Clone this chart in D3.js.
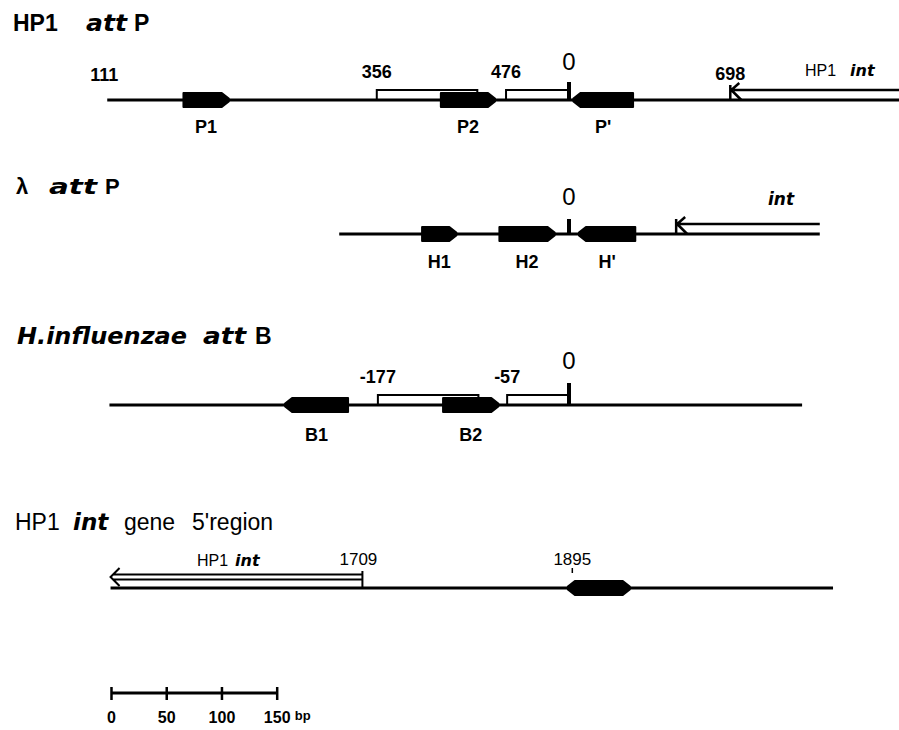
<!DOCTYPE html>
<html>
<head>
<meta charset="utf-8">
<script src="https://cdn.jsdelivr.net/npm/d3@7"></script>
<style>
    html, body { margin: 0; padding: 0; background: #ffffff; }
    svg text { font-family: 'Liberation Sans', Arial, sans-serif; fill: #000000; }
    .ital { font-family: 'DejaVu Sans', sans-serif; font-weight: bold; font-style: oblique; }
</style>
</head>
<body>
<div id="chart"></div>
<script>
// All positions are in bp, measured from the core "0" of each site

// HP1 attP
const hp1Span = [-418, 300];
const hp1Sites = [
    { name: 'P1', start: -349, end: -308, taper: 'right' },
    { name: 'P2', start: -116, end: -67, taper: 'right' },
    { name: "P'", start: 4, end: 58, taper: 'left' },
];
const hp1Brackets = [
    { label: '356', start: -174, end: -83 },
    { label: '476', start: -57, end: 0 },
];
const hp1Start = '111';
const hp1Int = { label: '698', start: 146, end: 300 };

// lambda attP
const lambdaSpan = [-208, 227];
const lambdaSites = [
    { name: 'H1', start: -133, end: -102, taper: 'right' },
    { name: 'H2', start: -63, end: -13, taper: 'right' },
    { name: "H'", start: 9, end: 60, taper: 'left' },
];
const lambdaInt = { start: 97, end: 227 };

// H. influenzae attB
const hinfSpan = [-416, 211];
const hinfSites = [
    { name: 'B1', start: -257, end: -200, taper: 'left' },
    { name: 'B2', start: -114, end: -64, taper: 'right' },
];
const hinfBrackets = [
    { label: '-177', start: -173, end: -82 },
    { label: '-57', start: -56, end: 0 },
];

// HP1 int gene 5' region
const intRegionSpan = [-415, 239];
const intRegionArrow = { label: '1709', start: -415, end: -187 };
const intRegionSite = { name: '', start: -1, end: 55, taper: 'both' };
const intRegionMark = { label: '1895', pos: 3 };

// Scale bar
const scaleTicks = [0, 50, 100, 150];
const scaleUnit = 'bp';

// Size of the picture
const totalWidth = 899;
const totalHeight = 730;

// Baseline of every row
const rowY = { hp1: 100, lambda: 234, hinf: 405, intRegion: 588, scale: 693 };

const svg = d3
    .select('#chart')
    .append('svg')
    .attr('width', totalWidth)
    .attr('height', totalHeight);

// bp to pixel, core sits at x = 569
const pxPerBp = 1.1047;
const x = d3
    .scaleLinear()
    .domain([-415, 300])
    .range([569 - 415 * pxPerBp, 569 + 300 * pxPerBp]);

// Draws the plain DNA line of a row
function drawLine(y, span) {
    svg.append('line')
        .attr('x1', x(span[0]))
        .attr('x2', x(span[1]))
        .attr('y1', y)
        .attr('y2', y)
        .attr('stroke', '#000')
        .attr('stroke-width', 3);
}

// Open brackets with their coordinate above
function drawBrackets(y, brackets) {
    svg.selectAll(null)
        .data(brackets)
        .enter()
        .append('path')
        .attr('d', (d) => `M${x(d.start)},${y} V${y - 10} H${x(d.end)} V${y}`)
        .attr('fill', 'none')
        .attr('stroke', '#000')
        .attr('stroke-width', 2);

    svg.selectAll(null)
        .data(brackets)
        .enter()
        .append('text')
        .attr('x', (d) => x(d.start))
        .attr('y', y - 22)
        .attr('text-anchor', 'middle')
        .style('font-size', '18px')
        .style('font-weight', 'bold')
        .text((d) => d.label);
}

// Filled binding sites, tapered on one or both ends
function sitePoints(d, y) {
    const x0 = x(d.start);
    const x1 = x(d.end);
    const h = 7;
    const n = 1.5;
    const t = 7;
    const pts = [];
    if (d.taper === 'left' || d.taper === 'both') {
        pts.push([x0, y - n], [x0 + t, y - h]);
    } else {
        pts.push([x0, y - h]);
    }
    if (d.taper === 'right' || d.taper === 'both') {
        pts.push([x1 - t, y - h], [x1, y - n], [x1, y + n], [x1 - t, y + h]);
    } else {
        pts.push([x1, y - h], [x1, y + h]);
    }
    if (d.taper === 'left' || d.taper === 'both') {
        pts.push([x0 + t, y + h], [x0, y + n]);
    } else {
        pts.push([x0, y + h]);
    }
    return pts;
}

function drawSites(y, sites, labelDy) {
    const shape = d3.line().curve(d3.curveLinearClosed);
    svg.selectAll(null)
        .data(sites)
        .enter()
        .append('path')
        .attr('d', (d) => shape(sitePoints(d, y)))
        .attr('fill', '#000')
        .attr('stroke', '#000')
        .attr('stroke-width', 2)
        .attr('stroke-linejoin', 'round');

    svg.selectAll(null)
        .data(sites.filter((d) => d.name))
        .enter()
        .append('text')
        .attr('x', (d) => (x(d.start) + x(d.end)) / 2)
        .attr('y', y + labelDy)
        .attr('text-anchor', 'middle')
        .style('font-size', '18px')
        .style('font-weight', 'bold')
        .text((d) => d.name);
}

// Core mark "0"
function drawCore(y, tick, labelDy) {
    svg.append('line')
        .attr('x1', x(0))
        .attr('x2', x(0))
        .attr('y1', y - tick)
        .attr('y2', y)
        .attr('stroke', '#000')
        .attr('stroke-width', 4);
    svg.append('text')
        .attr('x', x(0))
        .attr('y', y - labelDy)
        .attr('text-anchor', 'middle')
        .style('font-size', '24px')
        .text('0');
}

// int gene drawn as an open arrow running off to the right, head pointing left
function drawIntK(y, arrow) {
    const x0 = x(arrow.start);
    const x1 = Math.min(x(arrow.end), totalWidth + 2);
    svg.append('path')
        .attr('d', `M${x0},${y - 15} V${y} M${x0 + 9},${y - 17} L${x0 + 1},${y - 10} L${x0 + 11},${y} M${x0 + 3},${y - 10} H${x1}`)
        .attr('fill', 'none')
        .attr('stroke', '#000')
        .attr('stroke-width', 2.5);
}

// Row 1: HP1 attP
let y = rowY.hp1;
svg.append('text')
    .attr('y', 31)
    .style('font-size', '23px')
    .style('font-weight', 'bold')
    .call((t) => {
        t.append('tspan').attr('x', 13).text('HP1');
        t.append('tspan').attr('x', 86).attr('class', 'ital')
            .attr('textLength', 41).attr('lengthAdjust', 'spacingAndGlyphs').text('att');
        t.append('tspan').attr('x', 134).text('P');
    });
drawLine(y, hp1Span);
drawBrackets(y, hp1Brackets);
drawSites(y, hp1Sites, 33);
drawCore(y, 18, 30);
drawIntK(y, hp1Int);
svg.append('text')
    .attr('x', x(hp1Span[0]) - 3)
    .attr('y', y - 19)
    .attr('text-anchor', 'middle')
    .style('font-size', '18px')
    .style('font-weight', 'bold')
    .text(hp1Start);
svg.append('text')
    .attr('x', x(hp1Int.start))
    .attr('y', y - 20)
    .attr('text-anchor', 'middle')
    .style('font-size', '18px')
    .style('font-weight', 'bold')
    .text(hp1Int.label);
svg.append('text')
    .attr('y', y - 24)
    .call((t) => {
        t.append('tspan').attr('x', 805).style('font-size', '16px').text('HP1');
        t.append('tspan').attr('x', 850).attr('class', 'ital').style('font-size', '16px').text('int');
    });

// Row 2: lambda attP
y = rowY.lambda;
svg.append('text')
    .attr('y', 194)
    .style('font-size', '22px')
    .style('font-weight', 'bold')
    .call((t) => {
        t.append('tspan').attr('x', 16).text('λ');
        t.append('tspan').attr('x', 49).attr('class', 'ital')
            .attr('textLength', 48).attr('lengthAdjust', 'spacingAndGlyphs').text('att');
        t.append('tspan').attr('x', 105).text('P');
    });
drawLine(y, lambdaSpan);
drawSites(y, lambdaSites, 34);
drawCore(y, 15, 29);
drawIntK(y, lambdaInt);
svg.append('text')
    .attr('x', 768)
    .attr('y', y - 29)
    .attr('class', 'ital')
    .style('font-size', '17px')
    .text('int');

// Row 3: H. influenzae attB
y = rowY.hinf;
svg.append('text')
    .attr('y', 344)
    .style('font-size', '23px')
    .style('font-weight', 'bold')
    .call((t) => {
        t.append('tspan').attr('x', 17).attr('class', 'ital')
            .attr('textLength', 170).attr('lengthAdjust', 'spacingAndGlyphs').text('H.influenzae');
        t.append('tspan').attr('x', 203).attr('class', 'ital')
            .attr('textLength', 43).attr('lengthAdjust', 'spacingAndGlyphs').text('att');
        t.append('tspan').attr('x', 255).text('B');
    });
drawLine(y, hinfSpan);
drawBrackets(y, hinfBrackets);
drawSites(y, hinfSites, 36);
drawCore(y, 22, 36);

// Row 4: HP1 int gene 5' region
y = rowY.intRegion;
svg.append('text')
    .attr('y', 530)
    .style('font-size', '23px')
    .call((t) => {
        t.append('tspan').attr('x', 15).text('HP1');
        t.append('tspan').attr('x', 73).attr('class', 'ital').text('int');
        t.append('tspan').attr('x', 124).text('gene');
        t.append('tspan').attr('x', 192).text("5'region");
    });
drawLine(y, intRegionSpan);
drawSites(y, [intRegionSite], 0);

// open arrow for the int gene, pointing left
const ax0 = x(intRegionArrow.start);
const ax1 = x(intRegionArrow.end);
svg.append('path')
    .attr('d', `M${ax0 + 9},${y - 20} L${ax0},${y - 11} L${ax0 + 9},${y - 2} M${ax0 + 3},${y - 13.5} H${ax1} M${ax0 + 3},${y - 8.5} H${ax1} M${ax1},${y - 17} V${y}`)
    .attr('fill', 'none')
    .attr('stroke', '#000')
    .attr('stroke-width', 2);
svg.append('text')
    .attr('x', ax1 - 4)
    .attr('y', y - 23)
    .attr('text-anchor', 'middle')
    .style('font-size', '17px')
    .text(intRegionArrow.label);
svg.append('text')
    .attr('y', y - 22)
    .call((t) => {
        t.append('tspan').attr('x', 197).style('font-size', '16px').text('HP1');
        t.append('tspan').attr('x', 235).attr('class', 'ital').style('font-size', '16px').text('int');
    });
svg.append('text')
    .attr('x', x(intRegionMark.pos))
    .attr('y', y - 23)
    .attr('text-anchor', 'middle')
    .style('font-size', '17px')
    .text(intRegionMark.label);
svg.append('line')
    .attr('x1', x(intRegionMark.pos))
    .attr('x2', x(intRegionMark.pos))
    .attr('y1', y - 20)
    .attr('y2', y - 15)
    .attr('stroke', '#000')
    .attr('stroke-width', 1.5);

// Scale bar, using the same bp to pixel ratio
const bar = d3
    .scaleLinear()
    .domain([0, 150])
    .range([x(-414.6), x(-414.6 + 150)]);
const barAxis = d3.axisBottom(bar).tickValues(scaleTicks).tickSize(7).tickPadding(12);
const barGroup = svg
    .append('g')
    .attr('transform', `translate(0, ${rowY.scale})`)
    .call(barAxis);
barGroup.select('.domain')
    .attr('d', `M${bar(0)},0 H${bar(150)}`)
    .attr('stroke-width', 3);
barGroup.selectAll('.tick line')
    .attr('y1', -6)
    .attr('y2', 7)
    .attr('stroke-width', 2.5);
barGroup.selectAll('.tick text')
    .style('font-family', "'Liberation Sans', Arial, sans-serif")
    .style('font-size', '16px')
    .style('font-weight', 'bold');
svg.append('text')
    .attr('x', bar(150) + 18)
    .attr('y', rowY.scale + 27)
    .style('font-size', '13px')
    .style('font-weight', 'bold')
    .text(scaleUnit);
</script>
</body>
</html>
